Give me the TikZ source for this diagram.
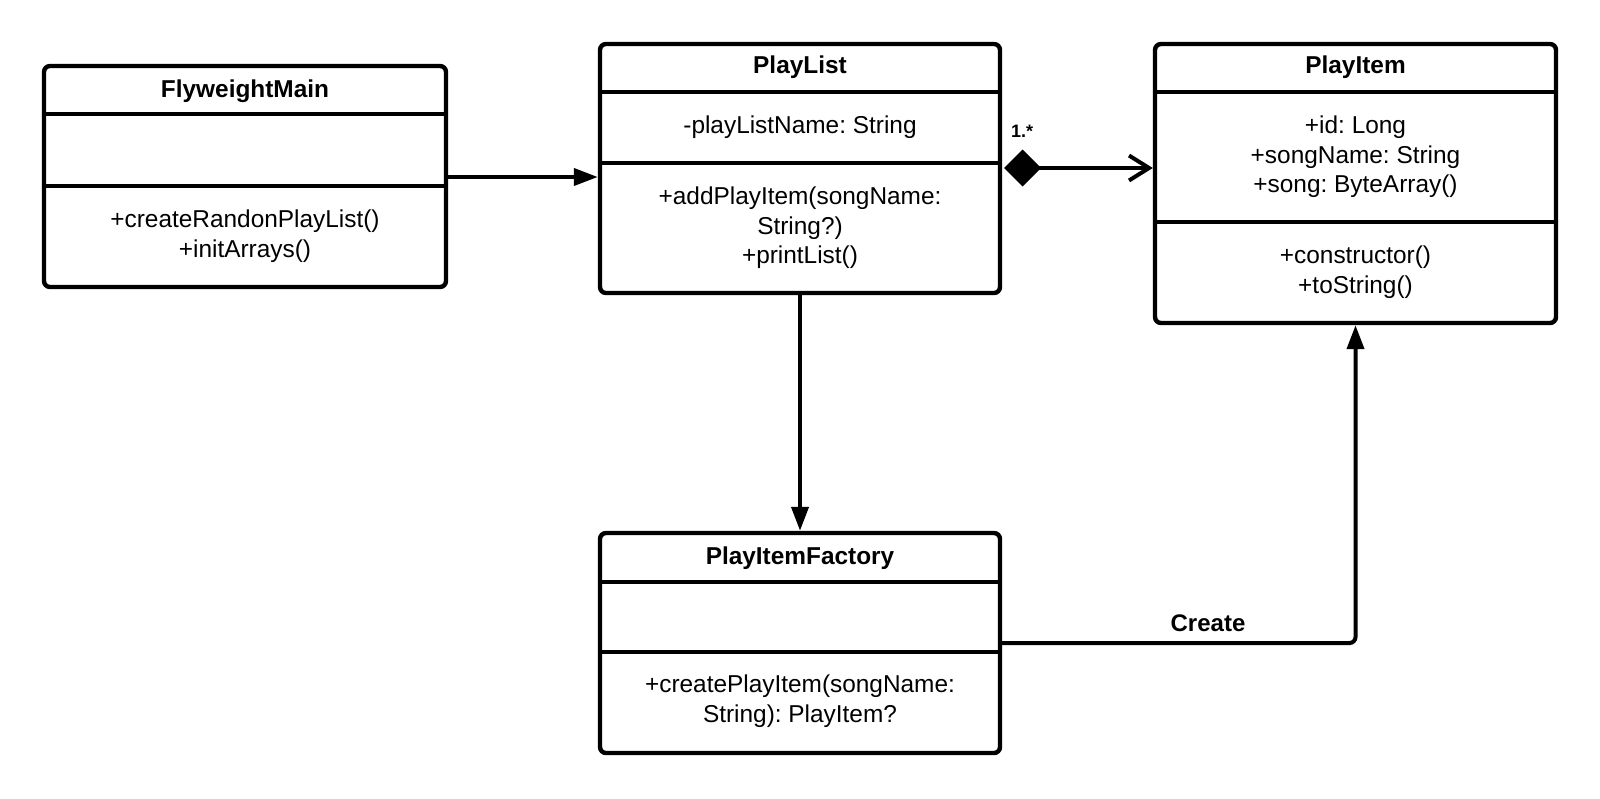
\documentclass[tikz,border=0pt]{standalone}
\usepackage{fontspec}
\setmainfont{Liberation Sans}
\usetikzlibrary{arrows.meta}
\frenchspacing
\begin{document}
\begin{tikzpicture}[x=0.5pt,y=-0.5pt,
  classbox/.style={draw=black,line width=2.2pt,rounded corners=3pt,fill=white,inner sep=0pt},
  divider/.style={line width=2.2pt},
  ttl/.style={font=\fontsize{12.2pt}{14.8pt}\selectfont\bfseries,inner sep=0pt,anchor=center},
  txt/.style={font=\fontsize{12.2pt}{14.8pt}\selectfont\frenchspacing,inner sep=0pt,align=center,anchor=center},
  conn/.style={line width=2pt},
  filltip/.style={-{Triangle[length=12pt,width=8.5pt]}},
  lbl/.style={font=\fontsize{12pt}{14pt}\selectfont\bfseries,inner sep=0pt}
]
\useasboundingbox (0,0) rectangle (1600,798);
\fill[white] (0,0) rectangle (1600,798);

% FlyweightMain
\node[classbox,minimum width=201pt,minimum height=110.5pt] (fm) at (245,176.5) {};
\draw[divider] (fm.west |- 0,114) -- (fm.east |- 0,114);
\draw[divider] (fm.west |- 0,186) -- (fm.east |- 0,186);
\node[ttl] (fmt) at (245,91) {FlyweightMain};
\node[txt] (fmm) at (245,236) {+createRandonPlayList()\\+initArrays()};

% PlayList
\node[classbox,minimum width=200pt,minimum height=124.5pt] (pl) at (800,168.5) {};
\draw[divider] (pl.west |- 0,92) -- (pl.east |- 0,92);
\draw[divider] (pl.west |- 0,163) -- (pl.east |- 0,163);
\node[ttl] (plt) at (800,67) {PlayList};
\node[txt] (pla) at (800,127) {-playListName: String};
\node[txt] (plm) at (800,228) {+addPlayItem(songName:\\String?)\\+printList()};

% PlayItem
\node[classbox,minimum width=200.5pt,minimum height=139.5pt] (pi) at (1355.5,183.5) {};
\draw[divider] (pi.west |- 0,92) -- (pi.east |- 0,92);
\draw[divider] (pi.west |- 0,222) -- (pi.east |- 0,222);
\node[ttl] (pit) at (1355.5,67) {PlayItem};
\node[txt] (pia) at (1355.5,157) {+id: Long\\+songName: String\\+song: ByteArray()};
\node[txt] (pim) at (1355.5,272) {+constructor()\\+toString()};

% PlayItemFactory
\node[classbox,minimum width=200pt,minimum height=110pt] (pf) at (800,643) {};
\draw[divider] (pf.west |- 0,582) -- (pf.east |- 0,582);
\draw[divider] (pf.west |- 0,652) -- (pf.east |- 0,652);
\node[ttl] (pft) at (800,558) {PlayItemFactory};
\node[txt] (pfm) at (800,701) {+createPlayItem(songName:\\String): PlayItem?};

% connectors
\draw[conn,filltip] ([xshift=-1pt]fm.east |- 0,177) -- (pl.west |- 0,177);
\draw[conn,filltip] (pl.south) -- (pf.north);
\draw[conn,{Diamond[length=18.5pt,width=18.5pt]}-{Straight Barb[length=10pt,width=12.5pt,line width=2pt]}]
  ([xshift=1pt]pl.east |- 0,168) -- (pi.west |- 0,168);
\draw[conn,filltip,rounded corners=3pt] ([xshift=-1pt]pf.east |- 0,643) -| (pi.south);

% labels
\node[lbl,font=\fontsize{9pt}{11pt}\selectfont\bfseries] (mult) at (1022,131) {1.*};
\node[lbl] (create) at (1208,623) {Create};
\end{tikzpicture}
\end{document}
